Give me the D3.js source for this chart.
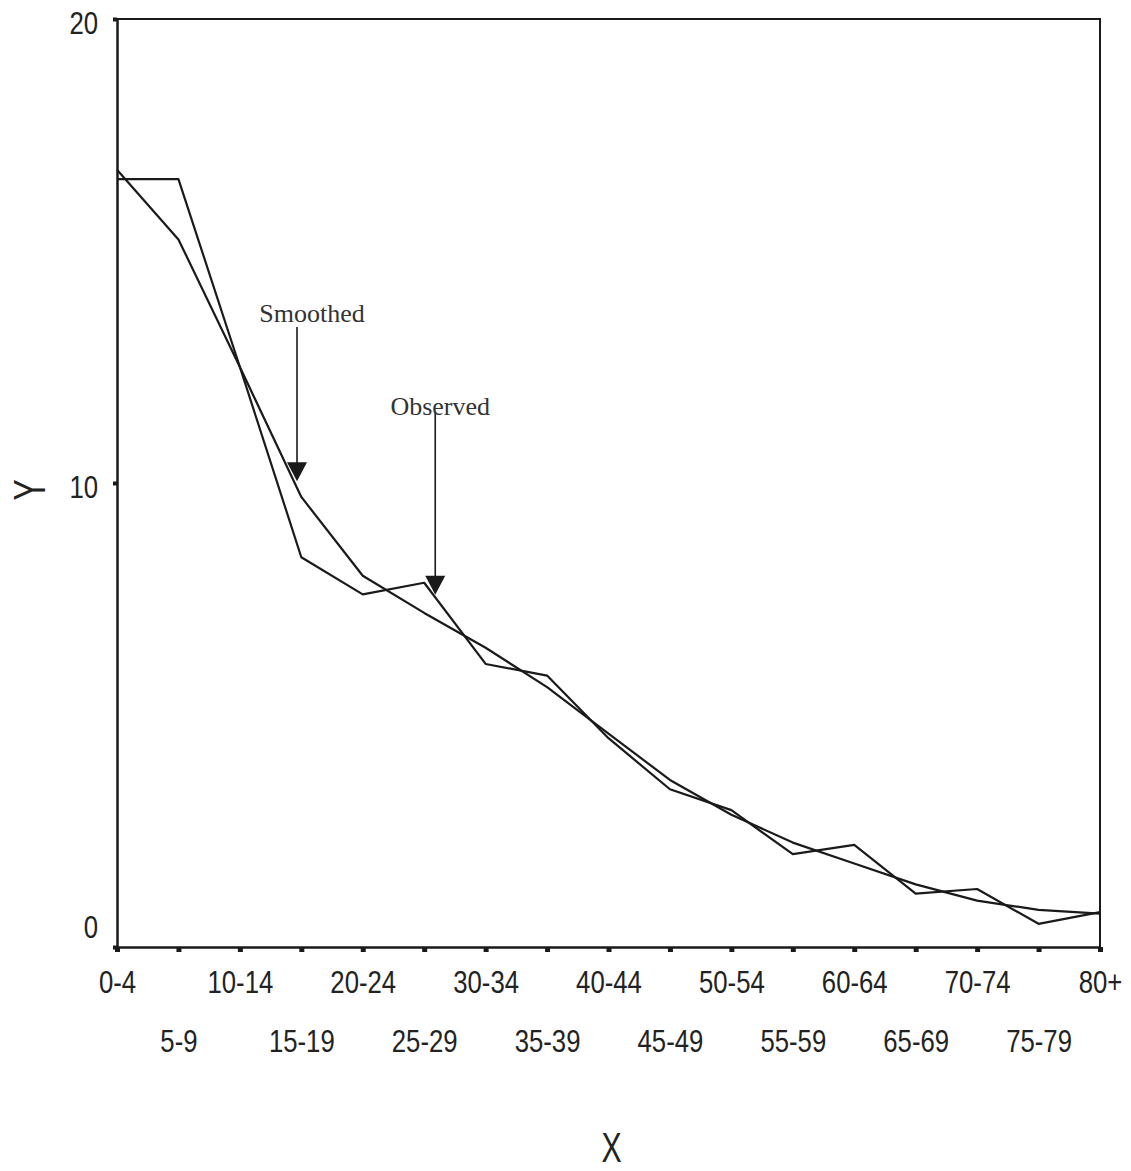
<!DOCTYPE html>
<html><head><meta charset="utf-8">
<script src="https://cdn.jsdelivr.net/npm/d3@7"></script>
<style>
html,body{margin:0;padding:0;background:#fff;}
svg{display:block;}
</style></head><body>
<svg id="chart" width="1131" height="1171"></svg>
<script>
// ---- data ----
const categories = ["0-4","5-9","10-14","15-19","20-24","25-29","30-34","35-39","40-44","45-49","50-54","55-59","60-64","65-69","70-74","75-79","80+"];
const observed = [16.55,16.55,12.5,8.4,7.6,7.85,6.1,5.85,4.5,3.4,2.95,2.0,2.2,1.15,1.25,0.5,0.75];
const smoothed = [16.75,15.25,12.5,9.7,8.0,7.2,6.45,5.6,4.6,3.6,2.85,2.25,1.8,1.35,1.0,0.8,0.72];
const yTicks = [0,10,20];
const yDomain = [0,20];
const xTitle = "X";
const yTitle = "Y";
const annotationLabels = ["Smoothed","Observed"];
const annotationCats = ["15-19","25-29"];
const annotationFrom = [13.36,11.53];   // value where arrow starts
const annotationTo = [10.04,7.59];      // value the arrow points at
const annotationTextAt = [13.47,11.47]; // text baseline value

// ---- layout ----
const plotLeft=117,plotRight=1100,plotTop=19,plotBottom=947;
const sans="'Liberation Sans',Arial,sans-serif";
const serif="'Liberation Serif','Times New Roman',serif";
const ink="#1a1a1a";
const narrow=0.83;

const svg=d3.select("#chart");
const x=d3.scalePoint().domain(categories).range([plotLeft,plotRight]);
const y=d3.scaleLinear().domain(yDomain).range([plotBottom,plotTop]);

// frame (top and right)
svg.append("path")
  .attr("d",`M${x.range()[0]-4},${y(yDomain[1])}H${x.range()[1]}V${y(yDomain[0])}`)
  .attr("fill","none").attr("stroke",ink).attr("stroke-width",2);

// x axis
const xAxis=svg.append("g").attr("transform",`translate(0,${y(0)})`)
  .call(d3.axisBottom(x).tickSize(5).tickSizeOuter(0));
xAxis.select(".domain").attr("stroke",ink).attr("stroke-width",2.5);
xAxis.selectAll(".tick line").attr("stroke",ink).attr("stroke-width",5);
xAxis.selectAll(".tick text")
  .attr("font-family",sans).attr("font-size",31).attr("fill","#222")
  .attr("transform",`scale(${narrow},1)`)
  .attr("dy",0).attr("y",(d,i)=> i%2 ? 105 : 46);

// y axis
const yAxis=svg.append("g").attr("transform",`translate(${plotLeft},0)`)
  .call(d3.axisLeft(y).tickValues(yTicks).tickSize(4).tickSizeOuter(0).tickFormat(d3.format("d")));
yAxis.select(".domain").attr("stroke",ink).attr("stroke-width",2.5);
yAxis.selectAll(".tick line").attr("stroke",ink).attr("stroke-width",4);
yAxis.selectAll(".tick text")
  .attr("font-family",sans).attr("font-size",31).attr("fill","#222")
  .attr("transform",`scale(${narrow},1)`)
  .attr("x",-19/narrow).attr("dy",d=> d===0 ? -10 : 14);

// titles
svg.append("text").attr("transform",`translate(${(plotLeft+plotRight)/2+3},1162) scale(0.72,1)`)
  .attr("text-anchor","middle").attr("font-family",sans).attr("font-size",42).attr("fill","#222")
  .text(xTitle);
svg.append("text").attr("transform",`translate(45,${(plotTop+plotBottom)/2+7}) rotate(-90) scale(0.72,1)`)
  .attr("text-anchor","middle").attr("font-family",sans).attr("font-size",44).attr("fill","#222")
  .text(yTitle);

// lines
const line=d3.line().x((d,i)=>x(categories[i])).y(d=>y(d));
[observed,smoothed].forEach(series=>{
  svg.append("path").datum(series).attr("d",line)
    .attr("fill","none").attr("stroke",ink).attr("stroke-width",2.2).attr("stroke-linejoin","round");
});

// annotations
const shifts=[-0.07,0.18];
const textShift=[15,5];
annotationLabels.forEach((lab,i)=>{
  const ax=x(annotationCats[i])+shifts[i]*x.step();
  const tip=y(annotationTo[i]);
  svg.append("line").attr("x1",ax).attr("x2",ax).attr("y1",y(annotationFrom[i])).attr("y2",tip-15)
    .attr("stroke",ink).attr("stroke-width",1.6);
  svg.append("path").attr("d",`M${ax-10},${tip-19}L${ax+10},${tip-19}L${ax},${tip}Z`).attr("fill",ink);
  svg.append("text").attr("x",ax+textShift[i]).attr("y",y(annotationTextAt[i]))
    .attr("text-anchor","middle").attr("font-family",serif).attr("font-size",26).attr("fill","#333")
    .text(lab);
});
</script>
</body></html>
